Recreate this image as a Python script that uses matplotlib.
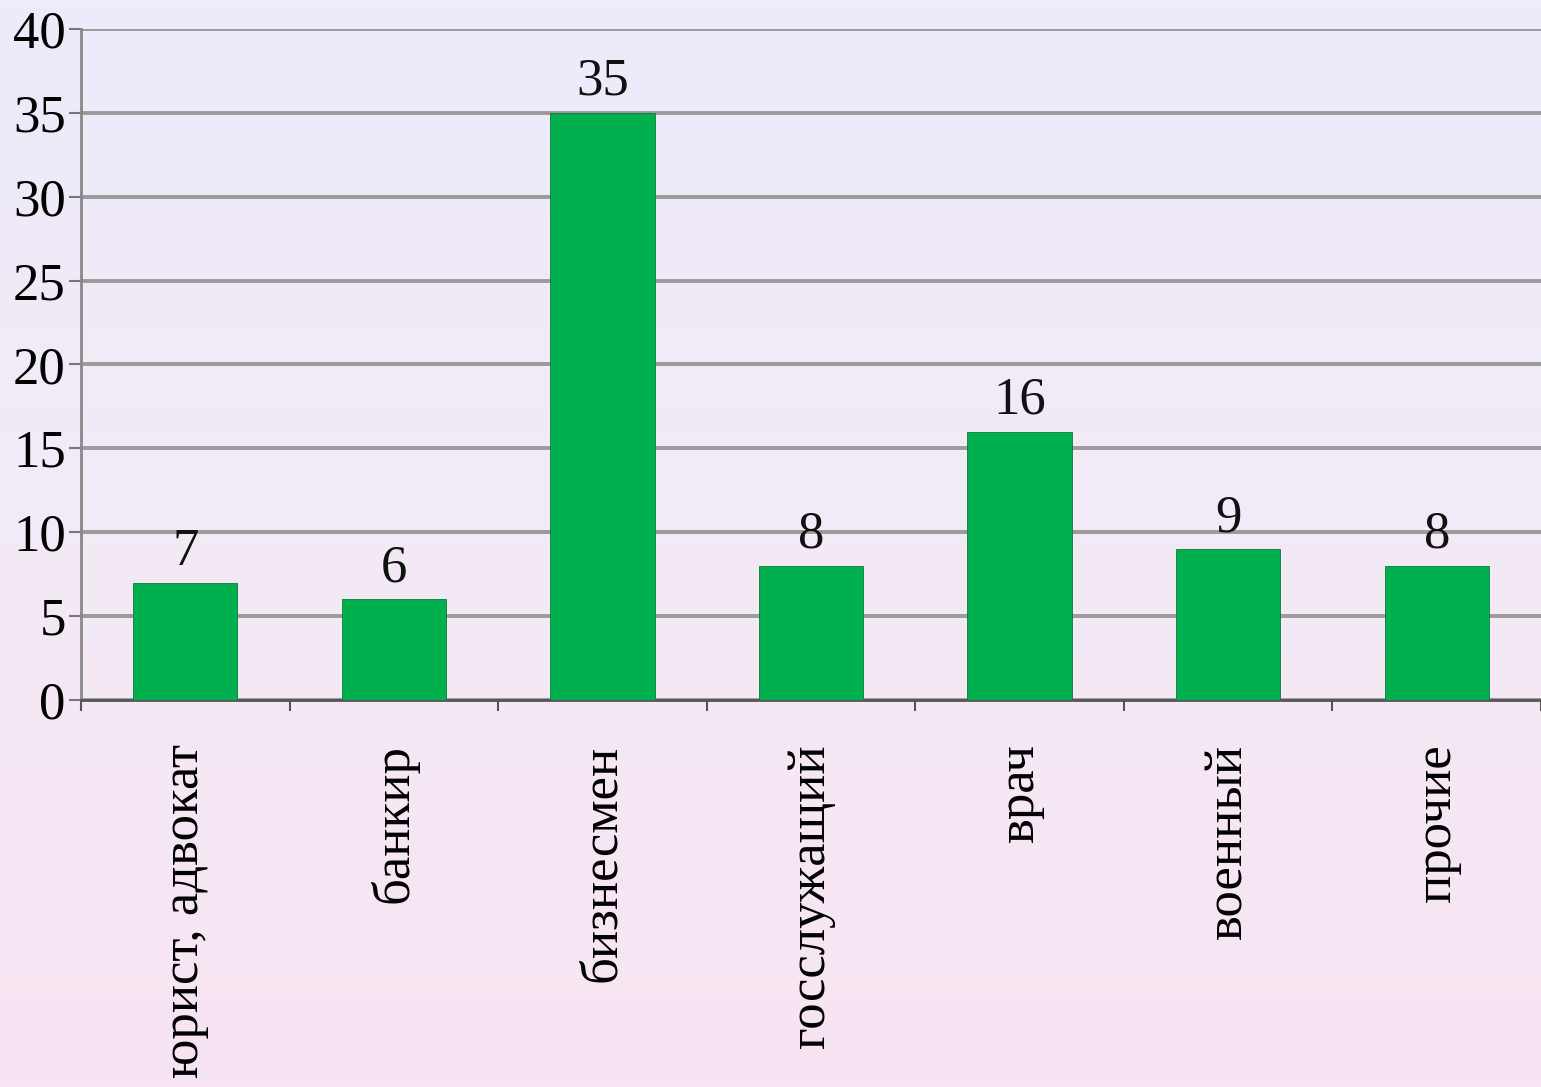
import numpy as np
import matplotlib.pyplot as plt

# данные
categories = ['юрист, адвокат', 'банкир', 'бизнесмен', 'госслужащий', 'врач', 'военный', 'прочие']
values = [7, 6, 35, 8, 16, 9, 8]
y_ticks = [0, 5, 10, 15, 20, 25, 30, 35, 40]

plt.rcParams['font.family'] = ['Liberation Serif', 'DejaVu Serif']

fig = plt.figure(figsize=(15.41, 10.87), dpi=100)
W, H = 1541, 1087

# бледный фон (вместо фотоколлажа)
bg = fig.add_axes([0, 0, 1, 1], zorder=0)
grad = np.linspace(0, 1, 256).reshape(-1, 1)
from matplotlib.colors import LinearSegmentedColormap
cmap = LinearSegmentedColormap.from_list('bg', ['#eeebfa', '#f3eaf6', '#f8e4f2'])
bg.imshow(grad, aspect='auto', cmap=cmap, extent=[0, 1, 0, 1])
bg.axis('off')

ax = fig.add_axes([81 / W, 1 - 700 / H, (1541 - 81) / W, (700 - 29) / H], zorder=1)
ax.set_facecolor('none')

x = list(range(len(categories)))
ax.bar(x, values, width=0.5, color='#00b04f', edgecolor='#0a7a3a', linewidth=0.6, zorder=3)

for xi, v in zip(x, values):
    ax.annotate(str(v), (xi, v), xytext=(0, 5), textcoords='offset points',
                ha='center', va='bottom', fontsize=38, color='#111111', zorder=4)

ax.set_ylim(0, 40)
ax.set_xlim(-0.5, 6.40)
ax.set_yticks(y_ticks)
ax.set_yticklabels([str(t) for t in y_ticks], fontsize=38)
ax.yaxis.grid(True, color='#9a9a9a', linewidth=2.8, zorder=1)

ax.set_xticks(x)
ax.set_xticklabels(categories, rotation=90, fontsize=38, va='top', ha='center')
ax.tick_params(axis='x', length=0, pad=32)
ax.set_xticks([i + 0.5 for i in range(-1, len(categories))], minor=True)
ax.tick_params(axis='x', which='minor', length=8, width=1.5, color='#555555', direction='out')
ax.tick_params(axis='y', length=9, width=1.5, color='#777777', pad=2)

for s in ['top', 'right']:
    ax.spines[s].set_visible(False)
ax.spines['left'].set_color('#888888')
ax.spines['left'].set_linewidth(2)
ax.spines['bottom'].set_color('#555555')
ax.spines['bottom'].set_linewidth(2)

fig.savefig('out.png', dpi=100)
